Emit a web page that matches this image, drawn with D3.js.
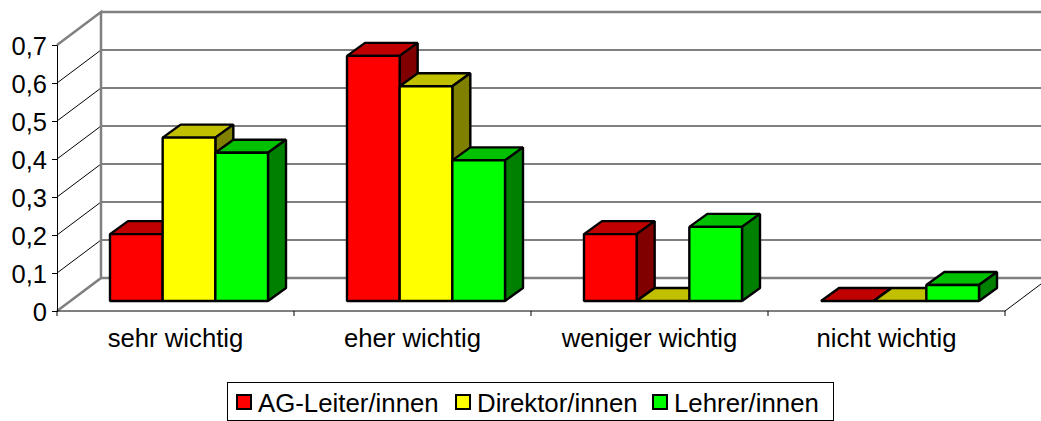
<!DOCTYPE html>
<html>
<head>
<meta charset="utf-8">
<script src="https://cdn.jsdelivr.net/npm/d3@7"></script>
<style>
  html, body { margin: 0; padding: 0; background: white; overflow: hidden; }
  svg { display: block; }
  text { font-family: "Liberation Sans", Arial, sans-serif; fill: black; }
</style>
</head>
<body>
<div id="container"></div>
<script>
let categories = ["sehr wichtig", "eher wichtig", "weniger wichtig", "nicht wichtig"];
let seriesNames = ["AG-Leiter/innen", "Direktor/innen", "Lehrer/innen"];
let agLeiter = [0.176, 0.645, 0.176, 0];
let direktor = [0.43, 0.565, 0, 0];
let lehrer = [0.39, 0.37, 0.195, 0.042];
let yTicks = [0, 0.1, 0.2, 0.3, 0.4, 0.5, 0.6, 0.7];

let seriesValues = [agLeiter, direktor, lehrer];
let frontColors = ["#ff0000", "#ffff00", "#00ff00"];
let topColors = ["#c00000", "#c0c000", "#00c000"];
let sideColors = ["#800000", "#808000", "#008000"];

let w = 1041;
let h = 421;

let viz = d3.select("#container")
  .append("svg")
    .attr("width", w)
    .attr("height", h)
    .style("background-color", "white")
;

// depth of the box and of the bars
let wallDx = 44, wallDy = -33;
let barDx = 18, barDy = -13;
let barLift = 10;

let xScale = d3.scaleBand().domain(categories).range([57, 1005]);
let yScale = d3.scaleLinear().domain([0, 0.7]).range([311, 45]);
let seriesScale = d3.scaleBand().domain(d3.range(seriesNames.length)).range([53, 211]);

let x0 = xScale.range()[0], x1 = xScale.range()[1];

function polygon(points){
  return "M" + points.map(p => p.join(",")).join("L") + "Z";
}

// back wall gridlines
viz.selectAll(".grid").data(yTicks.slice(1, -1)).enter()
  .append("line")
    .classed("grid", true)
    .attr("x1", x0 + wallDx)
    .attr("x2", x1 + wallDx)
    .attr("y1", d => yScale(d) + wallDy)
    .attr("y2", d => yScale(d) + wallDy)
    .attr("stroke", "#555")
    .attr("stroke-width", 1.5)
;

// diagonals on the left wall
viz.selectAll(".diag").data(yTicks.slice(1, -1)).enter()
  .append("line")
    .classed("diag", true)
    .attr("x1", x0)
    .attr("x2", x0 + wallDx)
    .attr("y1", d => yScale(d))
    .attr("y2", d => yScale(d) + wallDy)
    .attr("stroke", "black")
    .attr("stroke-width", 1)
;

// box outline in grey
let yTop = yScale(0.7), yBottom = yScale(0);
viz.append("path")
    .attr("d", "M" + x0 + "," + yBottom
      + "L" + (x0 + wallDx) + "," + (yBottom + wallDy)
      + "L" + (x0 + wallDx) + "," + (yTop + wallDy)
      + "L" + x0 + "," + yTop)
    .attr("fill", "none")
    .attr("stroke", "#808080")
    .attr("stroke-width", 2.5)
;
viz.append("line")
    .attr("x1", x0 + wallDx).attr("x2", x1 + wallDx)
    .attr("y1", yTop + wallDy).attr("y2", yTop + wallDy)
    .attr("stroke", "#808080").attr("stroke-width", 2.5)
;
viz.append("line")
    .attr("x1", x0 + wallDx).attr("x2", x1 + wallDx)
    .attr("y1", yBottom + wallDy).attr("y2", yBottom + wallDy)
    .attr("stroke", "#808080").attr("stroke-width", 2.5)
;
viz.append("line")
    .attr("x1", x1).attr("x2", x1 + wallDx)
    .attr("y1", yBottom).attr("y2", yBottom + wallDy)
    .attr("stroke", "black").attr("stroke-width", 1)
;

// bars, left to right so each front covers the side of the one before
let barData = [];
categories.forEach(function(c, i){
  seriesValues.forEach(function(vals, s){
    barData.push({ category: c, series: s, value: vals[i] });
  });
});

let bars = viz.selectAll(".bar").data(barData).enter()
  .append("g")
    .classed("bar", true)
;

function corners(d){
  let l = xScale(d.category) + seriesScale(d.series);
  let r = l + seriesScale.bandwidth();
  let t = yScale(d.value) - barLift;
  let b = yScale(0) - barLift;
  return { l: l, r: r, t: t, b: b };
}

bars.append("path")
    .attr("d", function(d){
      let c = corners(d);
      return polygon([[c.l, c.t], [c.l + barDx, c.t + barDy], [c.r + barDx, c.t + barDy], [c.r, c.t]]);
    })
    .attr("fill", d => topColors[d.series])
;
bars.append("path")
    .attr("d", function(d){
      let c = corners(d);
      return polygon([[c.r, c.t], [c.r + barDx, c.t + barDy], [c.r + barDx, c.b + barDy], [c.r, c.b]]);
    })
    .attr("fill", d => sideColors[d.series])
;
bars.append("rect")
    .attr("x", d => corners(d).l)
    .attr("y", d => corners(d).t)
    .attr("width", seriesScale.bandwidth())
    .attr("height", d => corners(d).b - corners(d).t)
    .attr("fill", d => frontColors[d.series])
;
bars.selectAll("path, rect")
    .attr("stroke", "black")
    .attr("stroke-width", 2.4)
    .attr("stroke-linejoin", "bevel")
;

// axes
let yAxis = d3.axisLeft(yScale)
  .tickValues(yTicks)
  .tickSize(5)
  .tickPadding(5)
  .tickFormat(d => String(d).replace(".", ","))
;
let yAxisGroup = viz.append("g")
    .attr("transform", "translate(" + x0 + ",0)")
    .call(yAxis)
;
yAxisGroup.selectAll("text").style("font-size", "25.5px").attr("dy", "0.36em");
yAxisGroup.select(".domain").attr("stroke", "black");

let xAxis = d3.axisBottom(xScale).tickSize(0).tickPadding(18);
let xAxisGroup = viz.append("g")
    .attr("transform", "translate(0," + yBottom + ")")
    .call(xAxis)
;
xAxisGroup.selectAll("text").style("font-size", "25.7px");
xAxisGroup.select(".domain").remove();

viz.append("line")
    .attr("x1", x0).attr("x2", x1)
    .attr("y1", yBottom).attr("y2", yBottom)
    .attr("stroke", "black")
;
viz.selectAll(".xtick").data(categories.concat([null])).enter()
  .append("line")
    .classed("xtick", true)
    .attr("x1", (d, i) => x0 + i * xScale.step())
    .attr("x2", (d, i) => x0 + i * xScale.step())
    .attr("y1", yBottom)
    .attr("y2", yBottom + 5)
    .attr("stroke", "black")
;

// legend
let legendX = [236, 455, 652];
viz.append("rect")
    .attr("x", 227.5)
    .attr("y", 382.5)
    .attr("width", 606)
    .attr("height", 38)
    .attr("fill", "white")
    .attr("stroke", "black")
;
let legend = viz.selectAll(".legend").data(seriesNames).enter()
  .append("g")
    .classed("legend", true)
    .attr("transform", (d, i) => "translate(" + legendX[i] + ",402)")
;
legend.append("rect")
    .attr("x", 1)
    .attr("y", -7)
    .attr("width", 14)
    .attr("height", 14)
    .attr("fill", (d, i) => frontColors[i])
    .attr("stroke", "black")
    .attr("stroke-width", 2)
;
legend.append("text")
    .text(d => d)
    .attr("x", 22)
    .attr("y", 10)
    .style("font-size", "25.8px")
;
</script>
</body>
</html>
